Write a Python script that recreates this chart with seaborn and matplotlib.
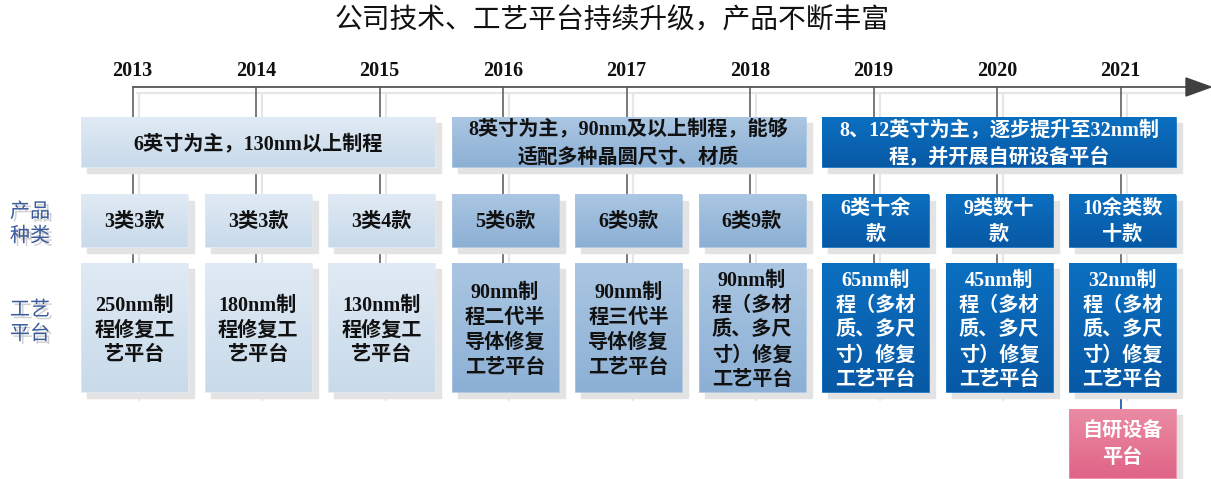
import numpy as np
import matplotlib.pyplot as plt
import matplotlib.patheffects as pe
import seaborn as sns
from matplotlib.patches import Rectangle, Polygon
from matplotlib.colors import to_rgb

sns.set_theme(style="white")
plt.rcParams['font.family'] = ['Liberation Serif', 'Noto Sans CJK SC', 'DejaVu Sans']

# Data
title = "公司技术、工艺平台持续升级，产品不断丰富"
years = [2013, 2014, 2015, 2016, 2017, 2018, 2019, 2020, 2021]
tiers = [0, 0, 0, 1, 1, 1, 2, 2, 2]
era_texts = ["6英寸为主，130nm以上制程",
             "8英寸为主，90nm及以上制程，能够\n适配多种晶圆尺寸、材质",
             "8、12英寸为主，逐步提升至32nm制\n程，并开展自研设备平台"]
era_spans = [(0, 2), (3, 5), (6, 8)]
product_types = ["3类3款", "3类3款", "3类4款", "5类6款", "6类9款", "6类9款",
                 "6类十余\n款", "9类数十\n款", "10余类数\n十款"]
platforms = ["250nm制\n程修复工\n艺平台",
             "180nm制\n程修复工\n艺平台",
             "130nm制\n程修复工\n艺平台",
             "90nm制\n程二代半\n导体修复\n工艺平台",
             "90nm制\n程三代半\n导体修复\n工艺平台",
             "90nm制\n程（多材\n质、多尺\n寸）修复\n工艺平台",
             "65nm制\n程（多材\n质、多尺\n寸）修复\n工艺平台",
             "45nm制\n程（多材\n质、多尺\n寸）修复\n工艺平台",
             "32nm制\n程（多材\n质、多尺\n寸）修复\n工艺平台"]
extra_year = 2021
extra_text = "自研设备\n平台"
row_labels = ["产品\n种类", "工艺\n平台"]

# Styles: gradient (top, bottom) and text colour per tier
tier_grad = [("#E0EAF4", "#C8DAEA"), ("#AAC6E2", "#8CB0D5"), ("#0B6FC0", "#0859A5")]
tier_text = ["#111111", "#111111", "#FFFFFF"]
pink_grad = ("#EA8BA3", "#E06487")

fig = plt.figure(figsize=(12.11, 4.79), dpi=100)
ax = fig.add_axes([0, 0, 1, 1])

left0, step, bw = 81, 123.5, 107
line_y = 87


def box_left(i):
    return left0 + step * i


def grad_box(x0, x1, y0, y1, colors, text, tcolor, fs=14.5, ls=1.42, dy=1):
    # shadow
    ax.add_patch(Rectangle((x0 + 6, y0 + 6), x1 - x0, y1 - y0, color="#E3E3E3", zorder=2))
    top, bot = np.array(to_rgb(colors[0])), np.array(to_rgb(colors[1]))
    t = np.linspace(0, 1, 50)[:, None, None]
    img = top * (1 - t) + bot * t
    ax.imshow(img, extent=(x0, x1, y1, y0), origin="upper", aspect="auto", zorder=3)
    ax.add_patch(Rectangle((x0, y0), x1 - x0, y1 - y0, fill=False,
                           edgecolor=colors[0], lw=0.6, zorder=4))
    ax.text((x0 + x1) / 2, (y0 + y1) / 2 + dy, text, ha="center", va="center",
            color=tcolor, fontsize=fs, fontweight="bold", linespacing=ls, zorder=5)


# year lines (with faint shadow)
for i, yr in enumerate(years):
    cx = box_left(i) + bw / 2 - 2
    ax.plot([cx + 6, cx + 6], [line_y + 6, 400], color="#E6E6E6", lw=1.5, zorder=1)
    ax.plot([cx, cx], [line_y, 392], color="#555555", lw=1.1, zorder=1.5)
    if yr == extra_year:
        ax.plot([cx, cx], [392, 409], color="#1F5FA8", lw=1.3, zorder=1.5)
    else:
        ax.plot([cx, cx], [392, 395], color="#555555", lw=1.1, zorder=1.5)
    ax.text(cx, 71, str(yr), ha="center", va="center", fontsize=14.5,
            fontweight="bold", color="#111111")

# timeline with arrow
ax.plot([137, 1185], [line_y + 6, line_y + 6], color="#E6E6E6", lw=1.5, zorder=1)
ax.plot([box_left(0) + bw / 2 - 2, 1188], [line_y, line_y], color="#555555", lw=1.3, zorder=1.6)
ax.add_patch(Polygon([[1186, 78], [1211, line_y], [1186, 96]], closed=True,
                     color="#404040", zorder=2))

# era boxes
for k, (a, b) in enumerate(era_spans):
    grad_box(box_left(a), box_left(b) + bw, 117, 167, tier_grad[k], era_texts[k],
             tier_text[k], ls=1.5, dy=2)

# product type and platform boxes
for i, yr in enumerate(years):
    x0 = box_left(i)
    tr = tiers[i]
    grad_box(x0, x0 + bw, 195, 247, tier_grad[tr], product_types[i], tier_text[tr], ls=1.45)
    grad_box(x0, x0 + bw, 263, 392, tier_grad[tr], platforms[i], tier_text[tr], ls=1.32, dy=3)

# extra platform
xi = years.index(extra_year)
grad_box(box_left(xi), box_left(xi) + bw, 409, 478, pink_grad, extra_text, "#FFFFFF")

# row labels with soft shadow
shadow = [pe.SimplePatchShadow(offset=(2, -2), shadow_rgbFace="#D0D0D0", alpha=1), pe.Normal()]
for lbl, yc in zip(row_labels, [224, 322]):
    ax.text(30, yc, lbl, ha="center", va="center", fontsize=14.5,
            color="#3A5A9C", family=["Noto Sans CJK SC"], linespacing=1.2,
            path_effects=shadow)

ax.text(612, 20, title, ha="center", va="center", fontsize=20,
        color="#111111", family=["Noto Sans CJK SC"])

ax.set_xlim(0, 1211)
ax.set_ylim(479, 0)
ax.axis("off")

fig.savefig("out.png", dpi=100)
